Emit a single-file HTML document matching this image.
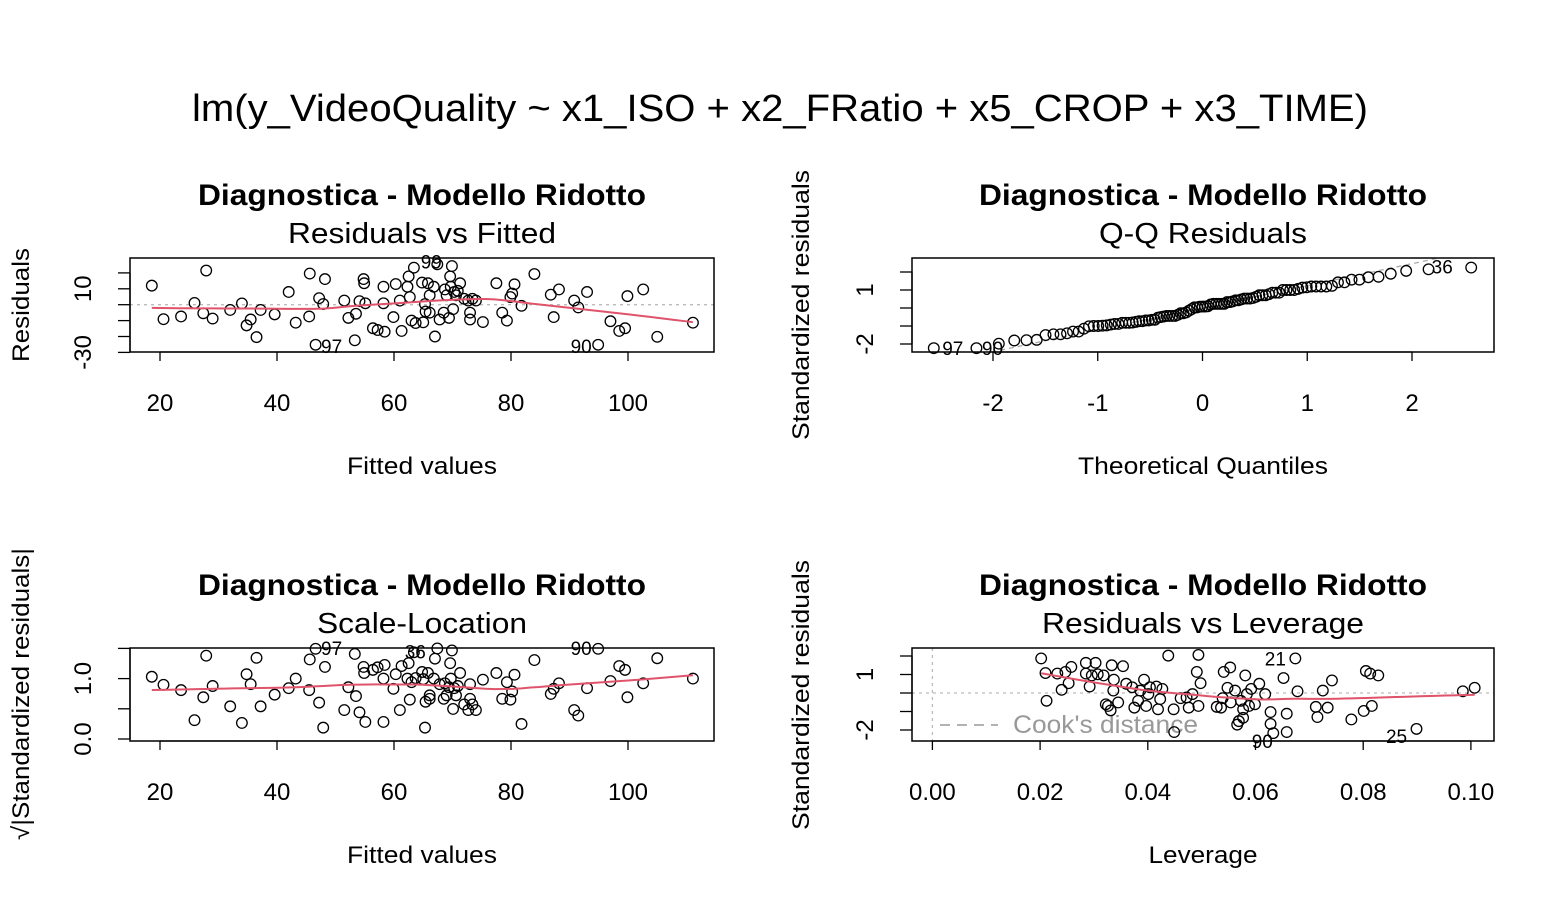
<!DOCTYPE html>
<html><head><meta charset="utf-8"><style>
html,body{margin:0;padding:0;background:#fff}
svg{display:block;font-family:"Liberation Sans",Arial,sans-serif}
</style></head><body>
<svg id="c" width="1562" height="904" xmlns="http://www.w3.org/2000/svg">
<text x="780" y="121" font-size="38" text-anchor="middle" textLength="1176" lengthAdjust="spacingAndGlyphs">lm(y_VideoQuality ~ x1_ISO + x2_FRatio + x5_CROP + x3_TIME)</text>
</svg>
<script>
// fitted values and residuals (panel 1, shared by Q-Q and scale-location)
const fitted=[18.6,20.6,23.6,25.9,27.4,27.9,29.0,32.0,34.0,34.8,35.5,36.5,37.2,39.6,42.0,43.2,45.5,45.6,47.2,47.9,48.2,46.6,51.5,52.2,53.3,53.5,54.1,54.8,54.9,55.1,56.4,57.2,58.2,58.4,58.2,59.9,60.3,61.0,61.3,62.3,62.5,62.7,63.0,63.4,63.7,64.8,65.0,65.3,65.4,65.8,66.1,66.1,66.8,67.0,67.4,67.8,68.5,68.7,69.0,69.4,69.6,69.7,69.9,70.1,70.3,70.6,71.3,70.9,72.0,72.7,73.0,73.0,73.4,74.0,75.2,77.5,78.5,79.3,79.9,80.2,80.6,81.8,84.0,86.8,87.3,88.2,90.8,91.5,93.0,94.9,97.0,98.5,99.5,99.9,102.6,105.0,111.1];
const residuals=[12.0,-9.1,-7.4,1.1,-5.4,21.5,-8.7,-3.3,0.8,-13.0,-9.3,-20.4,-3.3,-6.1,8.0,-11.3,-7.4,19.6,4.1,0.4,16.1,-25.2,2.6,-8.3,-22.4,-5.7,2.2,16.1,13.5,0.9,-14.8,-15.9,11.3,-17.0,0.9,-7.8,13.0,2.6,-16.5,11.3,17.8,4.8,-10.0,23.3,-11.5,13.9,-11.1,0.4,-4.3,13.5,5.9,-5.0,11.3,-20.0,25.4,-9.3,-5.0,9.6,5.9,-8.3,17.8,11.3,24.3,-2.8,8.0,5.9,13.5,8.7,3.7,2.6,-5.0,-9.3,3.7,2.6,-10.9,13.5,-5.0,-10.0,4.8,7.0,12.8,-0.7,19.3,6.3,-7.8,9.6,2.6,-1.7,8.0,-25.2,-10.4,-16.5,-14.8,5.4,9.6,-20.2,-11.3];
const sigma=11.3;
// leverage panel
const leverage=[.0202,.0212,.0210,.0232,.0240,.0247,.0253,.0258,.0285,.0285,.0292,.0296,.0303,.0307,.0318,.0322,.0326,.0331,.0333,.0336,.0337,.0345,.0354,.0360,.0371,.0375,.0382,.0386,.0393,.0397,.0401,.0404,.0416,.0419,.0423,.0427,.0438,.0448,.0449,.0461,.0472,.0476,.0483,.0491,.0494,.0494,.0498,.0528,.0536,.0539,.0541,.0548,.0553,.0554,.0562,.0566,.0569,.0573,.0577,.0577,.0581,.0584,.0588,.0592,.0599,.0607,.0618,.0628,.0628,.0633,.0652,.0658,.0658,.0674,.0678,.0712,.0715,.0725,.0734,.0742,.0778,.0801,.0805,.0813,.0816,.0828,.0899,.0985,.1007];
const levStdRes=[1.87,-0.42,1.08,1.05,0.17,1.14,0.53,1.41,1.63,1.05,0.35,0.95,1.63,1.01,0.95,-0.61,-0.70,-0.94,1.50,0.13,0.72,-0.51,1.45,0.50,0.31,-0.79,-0.42,0.13,0.72,-0.70,-0.06,0.31,0.35,-0.88,-0.33,0.22,2.02,-0.88,-2.11,-0.28,-0.24,-0.79,-0.06,1.14,2.06,-0.70,0.53,-0.75,-0.79,-0.28,1.14,0.28,1.38,-0.51,0.13,-1.71,-1.52,-0.42,-1.34,-0.88,0.95,-0.06,-0.70,0.22,-0.61,0.50,-0.06,-1.03,-1.67,-2.17,0.81,-1.12,-2.11,1.87,0.09,-0.75,-1.30,0.13,-0.79,0.68,-1.43,-0.97,1.19,1.05,-0.70,0.95,-1.94,0.09,0.28];
const fitTicks=[20,40,60,80,100];
const qqTicks=[-2,-1,0,1,2];
const levTicks=[0,0.02,0.04,0.06,0.08,0.10];
const levTickLabels=["0.00","0.02","0.04","0.06","0.08","0.10"];

const svg=document.getElementById('c');
const NS='http://www.w3.org/2000/svg';
function mk(tag,at,parent){const e=document.createElementNS(NS,tag);for(const k in at)e.setAttribute(k,at[k]);(parent||svg).appendChild(e);return e;}
function txt(x,y,s,size,at,parent){const t=mk('text',Object.assign({x:x,y:y,'font-size':size},at||{}),parent);t.textContent=s;return t;}

function qnorm(p){const a=[-39.6968302866538,220.946098424521,-275.928510446969,138.357751867269,-30.6647980661472,2.50662827745924],b=[-54.4760987982241,161.585836858041,-155.698979859887,66.8013829452355,-13.2806815528857],c=[-0.00778489400243029,-0.322396458041136,-2.40075827716184,-2.54973253934373,4.37466414146497,2.93816398269878],d=[0.00778469570904146,0.32246712907004,2.445134137143,3.75440866190742];let q,r;
if(p<0.02425){q=Math.sqrt(-2*Math.log(p));return(((((c[0]*q+c[1])*q+c[2])*q+c[3])*q+c[4])*q+c[5])/((((d[0]*q+d[1])*q+d[2])*q+d[3])*q+1);}
if(p>1-0.02425){q=Math.sqrt(-2*Math.log(1-p));return-(((((c[0]*q+c[1])*q+c[2])*q+c[3])*q+c[4])*q+c[5])/((((d[0]*q+d[1])*q+d[2])*q+d[3])*q+1);}
q=p-0.5;r=q*q;return(((((a[0]*r+a[1])*r+a[2])*r+a[3])*r+a[4])*r+a[5])*q/(((((b[0]*r+b[1])*r+b[2])*r+b[3])*r+b[4])*r+1);}

function lowess(xs,ys){const n=xs.length,k=Math.ceil(n*2/3),out=[];const mn=Math.min(...xs),mx=Math.max(...xs);
for(let i=0;i<=60;i++){const x0=mn+(mx-mn)*i/60;const ds=xs.map(x=>Math.abs(x-x0));const h=[...ds].sort((a,b)=>a-b)[k-1]||1;
let sw=0,sx=0,sy=0,sxx=0,sxy=0;for(let j=0;j<n;j++){const u=ds[j]/h;if(u>=1)continue;const w=Math.pow(1-u*u*u,3);sw+=w;sx+=w*xs[j];sy+=w*ys[j];sxx+=w*xs[j]*xs[j];sxy+=w*xs[j]*ys[j];}
const mxw=sx/sw,myw=sy/sw,v=sxx/sw-mxw*mxw;const b=v>1e-12?(sxy/sw-mxw*myw)/v:0;out.push([x0,myw+b*(x0-mxw)]);}return out;}

function panel(o){
 const g=mk('g',{});
 const cx=(o.x0+o.x1)/2;
 txt(cx,o.y0-53,'Diagnostica - Modello Ridotto',30,{'text-anchor':'middle','font-weight':'bold',textLength:448,lengthAdjust:'spacingAndGlyphs',},g);
 txt(cx,o.y0-15,o.sub,29,{'text-anchor':'middle',textLength:o.subW,lengthAdjust:'spacingAndGlyphs',},g);
 if(o.extra)o.extra(g);
 const ax=mk('g',{},g);
 mk('line',{x1:o.xs(o.xt[0]),x2:o.xs(o.xt[o.xt.length-1]),y1:o.y1,y2:o.y1,stroke:'#000','stroke-width':1.3},ax);
 o.xt.forEach((t,i)=>{const x=o.xs(t);mk('line',{x1:x,x2:x,y1:o.y1,y2:o.y1+9,stroke:'#000','stroke-width':1.3},ax);txt(x,o.y1+59,o.xl[i],24,{'text-anchor':'middle'},ax);});
 txt(cx,o.y1+122,o.xlab,24,{'text-anchor':'middle',textLength:o.xlabW,lengthAdjust:'spacingAndGlyphs',},g);
 const ay=mk('g',{},g);
 o.yt.forEach((t,i)=>{const y=o.ys(t);mk('line',{x1:o.x0-12,x2:o.x0,y1:y,y2:y,stroke:'#000','stroke-width':1.3},ay);if(o.yl[i])txt(0,0,o.yl[i],24,{'text-anchor':'middle',transform:`translate(${o.x0-39},${y}) rotate(-90)`},ay);});
 mk('line',{x1:o.x0,x2:o.x0,y1:o.ys(o.yt[0]),y2:o.ys(o.yt[o.yt.length-1]),stroke:'#000','stroke-width':1.3},ay);
 txt(0,0,o.ylab,24,{'text-anchor':'middle',textLength:o.ylabW,lengthAdjust:'spacingAndGlyphs',transform:`translate(${o.ylx},${o.ylc})  rotate(-90)`,},g);
 o.px.forEach((v,i)=>{const c=mk('circle',{cx:o.xs(v),cy:o.ys(o.py[i]),r:5.3,fill:'none',stroke:'#000','stroke-width':1.3},g);});
 if(o.smooth){const s=lowess(o.px,o.py);const p=mk('polyline',{points:s.map(q=>o.xs(q[0])+','+o.ys(q[1])).join(' '),fill:'none',stroke:'#DF536B','stroke-width':2},g);}
 (o.labels||[]).forEach(L=>txt(o.xs(o.px[L[0]])+L[2],o.ys(o.py[L[0]])+L[3],L[1],19,{'text-anchor':'middle',},g));
 mk('rect',{x:o.x0,y:o.y0,width:o.x1-o.x0,height:o.y1-o.y0,fill:'none',stroke:'#000','stroke-width':1.5,},g);
}
const fxs=d=>160+(d-20)*5.85;
// Panel 1
panel({name:'residuals-vs-fitted',sub:'Residuals vs Fitted',subW:268,x0:130,x1:714,y0:258,y1:352,xs:fxs,ys:d=>304.7-d*1.59,
 xt:fitTicks,xl:fitTicks.map(String),yt:[-30,-20,-10,0,10,20],yl:['-30','','','','10',''],xlab:'Fitted values',xlabW:150,ylab:'Residuals',ylabW:114,ylx:29,ylc:305,
 px:fitted,py:residuals,smooth:true,labels:[[54,'99',-6,4],[21,'97',16,8],[89,'90',-17,8]],
 extra:g=>mk('line',{x1:130,x2:714,y1:304.7,y2:304.7,stroke:'#bbb','stroke-dasharray':'3,4','stroke-width':1.3},g)});
// Panel 2 Q-Q
const std=residuals.map(r=>r/sigma);
const sorted=[...std].sort((a,b)=>a-b);const n=sorted.length;
const theo=sorted.map((_,i)=>qnorm((i+1-0.5)/n));
const q1=sorted[Math.floor(n*0.25)],q3=sorted[Math.floor(n*0.75)],t1=qnorm(0.25),t3=qnorm(0.75);
const qsl=(q3-q1)/(t3-t1),qint=q1-qsl*t1;
const qxs=d=>1202.5+d*104.75,qys=d=>308-d*18;
panel({name:'qq-residuals',sub:'Q-Q Residuals',subW:208,x0:912,x1:1494,y0:258,y1:352,xs:qxs,ys:qys,
 xt:qqTicks,xl:qqTicks.map(String),yt:[-2,-1,0,1,2],yl:['-2','','','1',''],xlab:'Theoretical Quantiles',xlabW:250,ylab:'Standardized residuals',ylabW:270,ylx:809,ylc:305,
 px:theo,py:sorted,labels:[[0,'97',19,7],[1,'90',16,7],[n-1,'36',-29,6]],
 extra:g=>{const l=mk('line',{x1:912,x2:1494,y1:qys(qint+qsl*(-2.77)),y2:qys(qint+qsl*2.77),stroke:'#aaa','stroke-dasharray':'5,4','stroke-width':1.3},g);const cp=mk('clipPath',{id:'qc'},g);mk('rect',{x:912,y:258,width:582,height:94},cp);l.setAttribute('clip-path','url(#qc)');}});
// Panel 3
const sl=std.map(s=>Math.sqrt(Math.abs(s)));
panel({name:'scale-location',sub:'Scale-Location',subW:210,x0:130,x1:714,y0:648,y1:741,xs:fxs,ys:d=>739-d*60.4,
 xt:fitTicks,xl:fitTicks.map(String),yt:[0,0.5,1,1.5],yl:['0.0','','1.0',''],xlab:'Fitted values',xlabW:150,ylab:'√|Standardized residuals|',ylabW:292,ylx:29,ylc:694,
 px:fitted,py:sl,smooth:true,labels:[[21,'97',16,6],[54,'36',-22,10],[89,'90',-17,6]]});
// Panel 4
const lxs=d=>932.4+d*5385,lys=d=>693-d*18.5;
panel({name:'residuals-vs-leverage',sub:'Residuals vs Leverage',subW:322,x0:912,x1:1494,y0:648,y1:741,xs:lxs,ys:lys,
 xt:levTicks,xl:levTickLabels,yt:[-2,-1,0,1,2],yl:['-2','','','1',''],xlab:'Leverage',xlabW:109,ylab:'Standardized residuals',ylabW:270,ylx:809,ylc:695,
 px:leverage,py:levStdRes,smooth:true,labels:[[73,'21',-20,7],[69,'90',-11,15],[86,'25',-20,14]],
 extra:g=>{mk('line',{x1:912,x2:1494,y1:lys(0),y2:lys(0),stroke:'#bbb','stroke-dasharray':'3,4','stroke-width':1.3},g);
  mk('line',{x1:lxs(0),x2:lxs(0),y1:648,y2:741,stroke:'#bbb','stroke-dasharray':'3,4','stroke-width':1.3},g);
  const lg=mk('g',{},g);
  mk('line',{x1:940,x2:998,y1:725,y2:725,stroke:'#999','stroke-dasharray':'10,7','stroke-width':1.5},lg);
  txt(1013,733,"Cook's distance",25,{fill:'#999',textLength:185,lengthAdjust:'spacingAndGlyphs'},lg);}});
</script>
</body></html>
